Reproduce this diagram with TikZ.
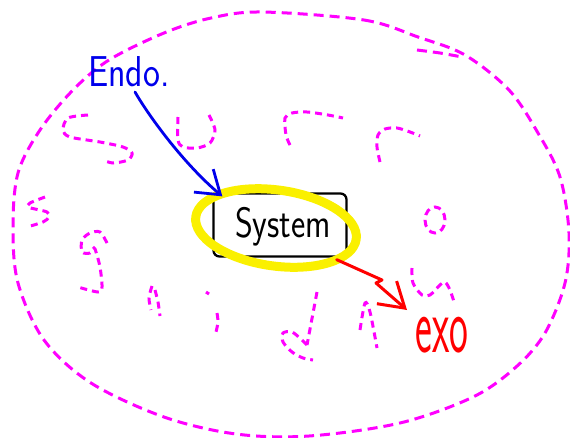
\documentclass[tikz,border=0pt]{standalone}
\usepackage{graphicx}
\usetikzlibrary{arrows.meta}
\definecolor{mag}{RGB}{255,0,255}
\definecolor{hiyel}{RGB}{250,240,0}
\definecolor{penblue}{RGB}{0,0,235}
\definecolor{penred}{RGB}{255,0,0}
\begin{document}
\begin{tikzpicture}[x=1pt,y=-1pt,
  mdash/.style={draw=mag, line width=3pt, dash pattern=on 10pt off 6pt},
  sq/.style={draw=mag, line width=3pt, dash pattern=on 7pt off 5pt},
  sysbox/.style={draw=black, line width=2.3pt, rounded corners=6pt, minimum width=133pt, minimum height=63pt, inner sep=0pt},
  hilite/.style={draw=hiyel, line width=9pt},
  bluepen/.style={draw=penblue, line width=2.8pt, line cap=round, line join=round, -{Straight Barb[length=22pt,width=30pt,line width=2.8pt]}},
  redpen/.style={draw=penred, line width=3pt, line cap=round, line join=round, -{Straight Barb[length=24pt,width=30pt,line width=3pt]}},
  lbl/.style={inner sep=0pt, font=\sffamily}
]
\useasboundingbox (0,0) rectangle (570,437);
% outer boundary
\draw[mdash] plot[smooth cycle, tension=0.55] coordinates {
 (262,12) (364,20) (418,37) (465,55) (509,90) (538,133) (560,177) (569,233)
 (565,283) (545,333) (516,367) (473,397) (400,423) (309,436) (236,434)
 (164,417) (91,383) (44,340) (18,283) (13,227) (18,173) (40,130) (73,90)
 (109,60) (164,33) (211,18)};
\draw[mdash] plot[smooth] coordinates {(417,50) (440,53) (462,57)};
% squiggles
\draw[sq] plot[smooth] coordinates {(88,115) (68,118) (63,130) (70,137) (100,142) (123,147) (132,153) (128,160) (113,163) (103,160)};
\draw[sq] plot[smooth] coordinates {(178,117) (178,140) (183,147) (197,148) (210,143) (215,130) (209,115)};
\draw[sq] plot[smooth] coordinates {(290,145) (286,135) (285,118) (292,113) (307,112) (328,115) (343,118)};
\draw[sq] plot[smooth] coordinates {(380,162) (377,147) (378,135) (385,129) (397,128) (410,132) (420,136)};
\draw[sq] plot[smooth] coordinates {(45,197) (30,203) (28,207) (35,209) (47,212) (49,217) (43,222) (27,227)};
\draw[sq] plot[smooth] coordinates {(107,243) (100,232) (90,233) (82,240) (82,252) (90,253) (94,248) (96,252) (100,267) (102,287) (98,292) (78,287)};
\draw[sq] plot[smooth] coordinates {(152,286) (149,298) (151,310)};
\draw[sq] plot[smooth] coordinates {(155,290) (158,302) (160,316)};
\draw[sq] (206,292) -- (209,294);
\draw[sq] plot[smooth] coordinates {(217,313) (218,322) (216,332)};
\draw[sq] (317,292) -- (307,345);
\draw[sq] plot[smooth] coordinates {(307,345) (302,340) (292,332) (283,333) (283,342) (292,352) (303,358) (313,360)};
\draw[sq] plot[smooth] coordinates {(360,330) (365,303) (370,312) (377,348)};
\draw[sq] (435,220) ellipse [x radius=10pt, y radius=13pt];
\draw[sq] plot[smooth] coordinates {(412,268) (413,283) (422,295) (430,295) (440,285) (445,282) (450,290) (455,305)};
% system
\node[sysbox] (sys) at (280,225) {};
\node[lbl, font=\sffamily\fontsize{34}{34}\selectfont] (systxt) at (283,227) {\scalebox{1}[1.25]{System}};
\draw[hilite, rotate around={-8:(276,228)}] (276,228) ellipse [x radius=81pt, y radius=38pt];
% labels
\node[lbl, text=penblue, font=\sffamily\fontsize{36}{36}\selectfont] (endo) at (129,72) {\scalebox{1}[1.2]{Endo.}};
\node[lbl, text=penred, font=\sffamily\fontsize{40}{40}\selectfont] (exo) at (442,335) {\scalebox{1}[2.0]{exo}};
\coordinate (endotail) at (135,92);
\coordinate (exotip) at (407,310);
% arrows
\draw[bluepen] (endotail) .. controls (150,118) and (185,165) .. ([shift={(10,4)}]sys.north west);
\draw[redpen] ([shift={(-11,2)}]sys.south east) -- (382,280) -- (376,283) -- (exotip);
\end{tikzpicture}
\end{document}
